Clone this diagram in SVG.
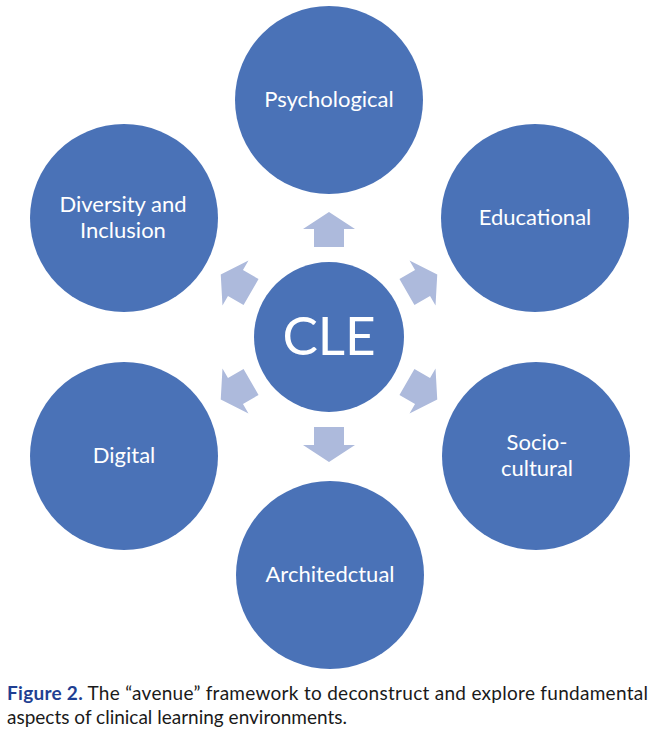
<svg xmlns="http://www.w3.org/2000/svg" width="660" height="737" viewBox="0 0 660 737">
<style>
.node{fill:#4a72b7}
.lbl{fill:#ffffff;font-family:Lato,"Liberation Sans",sans-serif;font-size:22px;text-anchor:middle}
.arrow{fill:#adbadc}
.cap{font-family:Lato,"Liberation Sans",sans-serif;font-size:19px;fill:#1a1a1a}
.fig{fill:#1f3f92;font-weight:bold}
</style>
<defs>
<polygon id="arr" points="0,-125 26,-108 15,-108 15,-90 -15,-90 -15,-108 -26,-108"/>
</defs>
<rect width="660" height="737" fill="#ffffff"/>
<g id="connectors" class="arrow">
<use href="#arr" transform="translate(329,337) rotate(0)"/>
<use href="#arr" transform="translate(329,337) rotate(60)"/>
<use href="#arr" transform="translate(329,337) rotate(120)"/>
<use href="#arr" transform="translate(329,337) rotate(180)"/>
<use href="#arr" transform="translate(329,337) rotate(240)"/>
<use href="#arr" transform="translate(329,337) rotate(300)"/>
</g>
<g id="cle">
<circle class="node" cx="329" cy="337" r="75"/>
<text class="lbl" x="329" y="355" style="font-size:53px">CLE</text>
</g>
<g id="psychological">
<circle class="node" cx="329" cy="100" r="94"/>
<text class="lbl" x="329" y="107">Psychological</text>
</g>
<g id="educational">
<circle class="node" cx="535" cy="218" r="94"/>
<text class="lbl" x="535" y="225">Educational</text>
</g>
<g id="sociocultural">
<circle class="node" cx="536" cy="456" r="94"/>
<text class="lbl" x="537" y="450">Socio-</text>
<text class="lbl" x="537" y="476">cultural</text>
</g>
<g id="architectual">
<circle class="node" cx="330" cy="575" r="94"/>
<text class="lbl" x="330" y="582">Architedctual</text>
</g>
<g id="digital">
<circle class="node" cx="124" cy="456" r="94"/>
<text class="lbl" x="124" y="463">Digital</text>
</g>
<g id="diversity">
<circle class="node" cx="124" cy="218" r="94"/>
<text class="lbl" x="123" y="212">Diversity and</text>
<text class="lbl" x="123" y="238">Inclusion</text>
</g>
<g id="caption">
<text class="cap" x="7" y="700" textLength="641" lengthAdjust="spacing"><tspan class="fig">Figure 2.</tspan> The “avenue” framework to deconstruct and explore fundamental</text>
<text class="cap" x="7" y="724" textLength="340" lengthAdjust="spacing">aspects of clinical learning environments.</text>
</g>
</svg>
